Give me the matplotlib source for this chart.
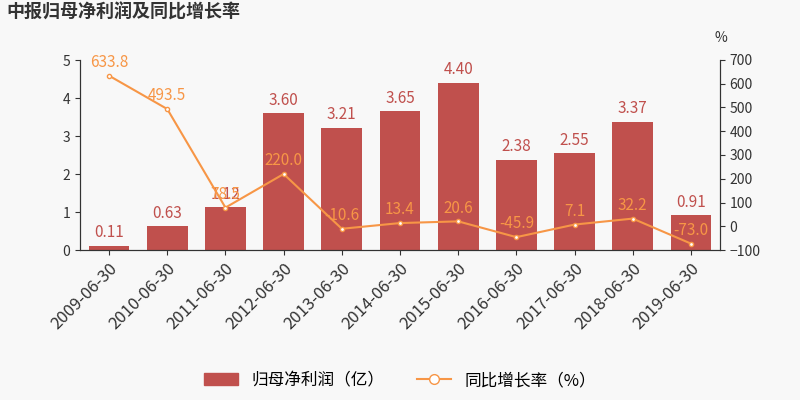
import matplotlib
matplotlib.use("Agg")
import matplotlib.pyplot as plt

plt.rcParams['font.family'] = ['Noto Sans CJK SC']

dates = ["2009-06-30","2010-06-30","2011-06-30","2012-06-30","2013-06-30","2014-06-30",
         "2015-06-30","2016-06-30","2017-06-30","2018-06-30","2019-06-30"]
profit = [0.11,0.63,1.12,3.60,3.21,3.65,4.40,2.38,2.55,3.37,0.91]
growth = [633.8,493.5,78.5,220.0,-10.6,13.4,20.6,-45.9,7.1,32.2,-73.0]

bg = "#f8f8f8"
fig = plt.figure(figsize=(8,4), dpi=100, facecolor=bg)
ax = fig.add_axes([0.1, 0.375, 0.8, 0.475], facecolor=bg)
ax2 = ax.twinx()
x = range(len(dates))
ax.bar(x, profit, width=0.7, color="#c0504d")
for i, v in enumerate(profit):
    ax.text(i, v + 0.12, f"{v:.2f}", ha="center", va="bottom", color="#c0504d", fontsize=11)
ax.set_ylim(0, 5)
ax.set_xlim(-0.5, len(dates) - 0.5)
ax.set_yticks(range(6))
ax.set_xticks(list(x))
ax.set_xticklabels(dates, rotation=45, ha="right", rotation_mode="anchor", fontsize=12, color="#333")
ax2.plot(x, growth, color="#f79646", lw=1.5, marker="o", ms=3, mfc="white", mec="#f79646")
for i, v in enumerate(growth):
    ax2.text(i, v + 20, f"{v:.1f}", ha="center", va="bottom", color="#f79646", fontsize=11)
ax2.set_ylim(-100, 700)
ax2.set_yticks(range(-100, 701, 100))
for a in (ax, ax2):
    for s in ["top"]:
        a.spines[s].set_visible(False)
    a.spines["left"].set_color("#333")
    a.spines["right"].set_color("#333")
    a.spines["bottom"].set_color("#333")
    a.tick_params(labelsize=10, colors="#333")
ax.tick_params(axis="x", labelsize=12)
fig.text(0.893, 0.895, "%", fontsize=10, color="#333")
fig.text(0.008, 0.955, "中报归母净利润及同比增长率", fontsize=13, fontweight="bold", color="#333")
from matplotlib.patches import Patch
from matplotlib.lines import Line2D
h = [Patch(color="#c0504d"), Line2D([0],[0], color="#f79646", marker="o", mfc="white", ms=7)]
fig.legend(h, ["归母净利润（亿）", "同比增长率（%）"], loc="lower center", bbox_to_anchor=(0.5, -0.01),
           ncol=2, frameon=False, fontsize=12, handlelength=2)
fig.savefig("out.png", facecolor=bg)
